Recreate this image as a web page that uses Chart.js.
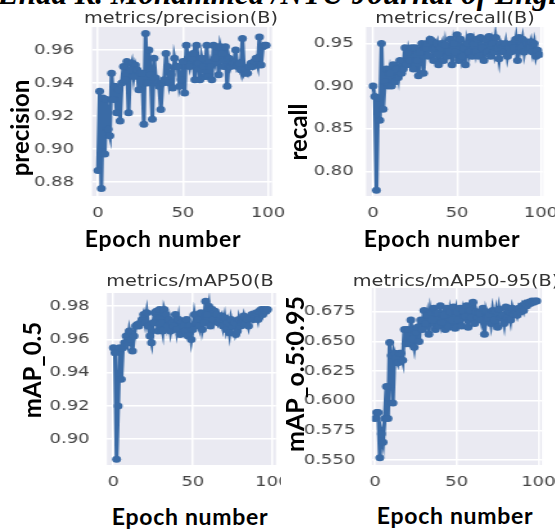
<!DOCTYPE html>
<html>
<head>
<meta charset="utf-8">
<script src="https://cdn.jsdelivr.net/npm/chart.js@4.4.0/dist/chart.umd.min.js"></script>
<style>
  html, body { margin: 0; padding: 0; background: #fff; }
  body { width: 555px; height: 530px; position: relative; overflow: hidden; }
  .panel { position: absolute; transform-origin: 0 0; }
  .panel canvas { display: block; }
  .lbl { position: absolute; font-family: Lato, sans-serif; font-weight: bold; color: #000;
         white-space: nowrap; transform: translate(-50%, -50%); line-height: 1; }
  .ylbl { transform: translate(-50%, -50%) rotate(-90deg); font-size: 24px; }
  .xlbl { font-size: 23px; letter-spacing: 0.7px; }
  .ttl { font-family: "DejaVu Sans", sans-serif; font-weight: normal; font-size: 15px; color: #333;
         transform: translate(-50%, -50%) scaleX(1.285); }
  #header { position: absolute; left: -2px; top: -24px; font: italic bold 31px "Liberation Serif", serif;
            white-space: nowrap; color: #000; }
</style>
</head>
<body>
<div id="header">Enaa K. Mohammed /NTU Journal of Engineering</div>

<script>
// training metrics per epoch
var precision = [
  0.887, 0.935, 0.876, 0.931, 0.897, 0.930, 0.912, 0.908, 0.946, 0.930,
  0.938, 0.922, 0.936, 0.917, 0.940, 0.950, 0.942, 0.953, 0.922, 0.948,
  0.952, 0.944, 0.951, 0.948, 0.936, 0.946, 0.946, 0.915, 0.970, 0.940,
  0.960, 0.945, 0.918, 0.955, 0.943, 0.940, 0.938, 0.924, 0.940, 0.942,
  0.958, 0.950, 0.940, 0.945, 0.937, 0.955, 0.950, 0.950, 0.938, 0.942,
  0.953, 0.934, 0.963, 0.955, 0.950, 0.955, 0.958, 0.942, 0.963, 0.952,
  0.942, 0.955, 0.950, 0.944, 0.963, 0.944, 0.950, 0.942, 0.963, 0.955,
  0.962, 0.945, 0.962, 0.958, 0.950, 0.962, 0.938, 0.955, 0.950, 0.953,
  0.952, 0.960, 0.950, 0.952, 0.948, 0.967, 0.946, 0.948, 0.946, 0.950,
  0.952, 0.950, 0.953, 0.955, 0.951, 0.968, 0.951, 0.962, 0.963, 0.963
];
var recall = [
  0.900, 0.888, 0.778, 0.886, 0.860, 0.950, 0.873, 0.905, 0.920, 0.900,
  0.915, 0.900, 0.925, 0.905, 0.920, 0.910, 0.930, 0.915, 0.920, 0.945,
  0.925, 0.940, 0.930, 0.945, 0.920, 0.945, 0.930, 0.912, 0.940, 0.950,
  0.915, 0.945, 0.950, 0.935, 0.955, 0.953, 0.930, 0.945, 0.950, 0.925,
  0.945, 0.950, 0.930, 0.948, 0.935, 0.940, 0.955, 0.925, 0.950, 0.940,
  0.960, 0.930, 0.955, 0.935, 0.945, 0.925, 0.950, 0.940, 0.958, 0.935,
  0.950, 0.940, 0.955, 0.935, 0.957, 0.945, 0.930, 0.955, 0.940, 0.958,
  0.935, 0.950, 0.940, 0.957, 0.945, 0.932, 0.950, 0.945, 0.940, 0.950,
  0.935, 0.945, 0.940, 0.950, 0.945, 0.955, 0.930, 0.957, 0.945, 0.955,
  0.940, 0.952, 0.950, 0.945, 0.952, 0.940, 0.950, 0.935, 0.942, 0.937
];
var map50 = [
  0.955, 0.952, 0.888, 0.920, 0.955, 0.936, 0.955, 0.958, 0.962, 0.958,
  0.965, 0.960, 0.953, 0.962, 0.968, 0.969, 0.968, 0.970, 0.972, 0.975,
  0.970, 0.976, 0.968, 0.962, 0.958, 0.970, 0.976, 0.977, 0.965, 0.978,
  0.970, 0.965, 0.978, 0.975, 0.968, 0.972, 0.965, 0.970, 0.968, 0.975,
  0.966, 0.972, 0.963, 0.970, 0.968, 0.965, 0.972, 0.962, 0.968, 0.960,
  0.966, 0.975, 0.970, 0.972, 0.968, 0.976, 0.966, 0.970, 0.983, 0.975,
  0.980, 0.968, 0.978, 0.972, 0.977, 0.975, 0.970, 0.972, 0.974, 0.968,
  0.973, 0.966, 0.970, 0.964, 0.972, 0.968, 0.970, 0.963, 0.965, 0.972,
  0.968, 0.970, 0.974, 0.970, 0.972, 0.968, 0.973, 0.975, 0.972, 0.974,
  0.976, 0.972, 0.977, 0.978, 0.975, 0.978, 0.977, 0.978
];
var map5095 = [
  0.585, 0.590, 0.590, 0.552, 0.572, 0.565, 0.585, 0.612, 0.585, 0.649,
  0.638, 0.598, 0.640, 0.636, 0.632, 0.640, 0.640, 0.634, 0.660, 0.648,
  0.660, 0.648, 0.668, 0.652, 0.645, 0.658, 0.662, 0.650, 0.668, 0.660,
  0.676, 0.665, 0.672, 0.656, 0.675, 0.668, 0.678, 0.660, 0.674, 0.663,
  0.680, 0.666, 0.672, 0.660, 0.678, 0.662, 0.675, 0.668, 0.679, 0.661,
  0.675, 0.668, 0.678, 0.663, 0.676, 0.671, 0.680, 0.662, 0.676, 0.670,
  0.683, 0.665, 0.675, 0.670, 0.674, 0.668, 0.678, 0.656, 0.675, 0.670,
  0.673, 0.665, 0.676, 0.668, 0.675, 0.662, 0.677, 0.670, 0.672, 0.665,
  0.679, 0.670, 0.675, 0.668, 0.678, 0.673, 0.676, 0.672, 0.678, 0.675,
  0.680, 0.676, 0.682, 0.680, 0.683, 0.682, 0.684, 0.683, 0.684, 0.684
];

var xTicks = [0, 50, 100];
var yTicks1 = [0.88, 0.90, 0.92, 0.94, 0.96];
var yTicks2 = [0.80, 0.85, 0.90, 0.95];
var yTicks3 = [0.90, 0.92, 0.94, 0.96, 0.98];
var yTicks4 = [0.550, 0.575, 0.600, 0.625, 0.650, 0.675];

// the source figure is stretched sideways, so each panel is drawn narrow and scaled
var STRETCH = 1.285;
var BLUE = '#3a6ba6';

var plotBackground = {
  id: 'plotBackground',
  beforeDraw: function(chart) {
    var a = chart.chartArea, ctx = chart.ctx;
    ctx.save();
    ctx.fillStyle = '#eaeaf2';
    ctx.fillRect(a.left, a.top, a.right - a.left, a.bottom - a.top);
    ctx.restore();
  }
};

function makePlot(o) {
  var w = Math.round(o.box[2] / STRETCH);
  var h = o.box[3];
  var wrap = document.createElement('div');
  wrap.className = 'panel';
  wrap.style.left = o.box[0] + 'px';
  wrap.style.top = o.box[1] + 'px';
  wrap.style.transform = 'scaleX(' + STRETCH + ')';
  var cv = document.createElement('canvas');
  cv.width = w; cv.height = h;
  cv.style.width = w + 'px'; cv.style.height = h + 'px';
  wrap.appendChild(cv);
  document.body.appendChild(wrap);

  var yWidth = (o.area[0] - o.box[0]) / STRETCH;
  var padRight = w - (o.area[1] - o.box[0]) / STRETCH;
  var xHeight = o.box[1] + h - o.area[3];
  var padTop = o.area[2] - o.box[1];

  var yTicks = o.yTicks;
  var dec = o.dec;
  var pts = o.values.map(function(v, i) { return { x: i, y: v }; });

  new Chart(cv, {
    type: 'line',
    data: {
      datasets: [{
        data: pts,
        borderColor: BLUE,
        backgroundColor: BLUE,
        pointBackgroundColor: BLUE,
        borderWidth: 3,
        pointRadius: 3.5,
        pointBorderWidth: 0,
        tension: 0
      }]
    },
    options: {
      responsive: false,
      animation: false,
      devicePixelRatio: 1,
      layout: { padding: { left: 0, right: padRight, top: padTop, bottom: 0 } },
      plugins: {
        legend: { display: false },
        tooltip: { enabled: false }
      },
      scales: {
        x: {
          type: 'linear',
          min: o.x[0],
          max: o.x[1],
          border: { display: false },
          grid: { color: '#ffffff', lineWidth: 1.5, drawTicks: false },
          afterBuildTicks: function(s) {
            s.ticks = xTicks.map(function(v) { return { value: v }; });
          },
          ticks: {
            padding: 9,
            maxRotation: 0,
            autoSkip: false,
            color: '#444',
            font: { family: 'DejaVu Sans', size: 14 },
            callback: function(v) { return String(v); }
          },
          afterFit: function(s) {
            s.height = xHeight;
            s.paddingLeft = 0;
            s.paddingRight = 0;
          }
        },
        y: {
          min: o.y[0],
          max: o.y[1],
          border: { display: false },
          grid: { color: '#ffffff', lineWidth: 1.5, drawTicks: false },
          afterBuildTicks: function(s) {
            s.ticks = yTicks.map(function(v) { return { value: v }; });
          },
          ticks: {
            padding: o.tickPad,
            autoSkip: false,
            color: '#444',
            font: { family: 'DejaVu Sans', size: 14 },
            callback: function(v) { return Number(v).toFixed(dec); }
          },
          afterFit: function(s) {
            s.width = yWidth;
            s.paddingTop = 0;
            s.paddingBottom = 0;
          }
        }
      }
    },
    plugins: [plotBackground]
  });
}

function addLabel(text, cls, x, y, size) {
  var d = document.createElement('div');
  d.className = 'lbl ' + cls;
  d.textContent = text;
  d.style.left = x + 'px';
  d.style.top = y + 'px';
  if (size) d.style.fontSize = size + 'px';
  document.body.appendChild(d);
}

makePlot({ values: precision,
  box: [0, 0, 290, 224], area: [92, 272, 27, 196],
  x: [-3.5, 102.4], y: [0.8715, 0.974], yTicks: yTicks1, dec: 2, tickPad: 14 });
makePlot({ values: recall,
  box: [278, 0, 277, 224], area: [366, 543, 27, 196],
  x: [-4.2, 101.2], y: [0.7714, 0.9692], yTicks: yTicks2, dec: 2, tickPad: 9.6 });
makePlot({ values: map50,
  box: [0, 262, 281, 232], area: [107, 276, 293, 465],
  x: [-4.0, 102.3], y: [0.8845, 0.9879], yTicks: yTicks3, dec: 2, tickPad: 13.5 });
makePlot({ values: map5095,
  box: [281, 262, 274, 232], area: [372, 542, 288, 465],
  x: [-1.8, 102.2], y: [0.5458, 0.695], yTicks: yTicks4, dec: 3, tickPad: 13 });

addLabel('metrics/precision(B)', 'ttl', 180.5, 18);
addLabel('metrics/recall(B)', 'ttl', 455, 18);
addLabel('metrics/mAP50(B', 'ttl', 190, 281);
addLabel('metrics/mAP50-95(B)', 'ttl', 456, 281);

addLabel('precision', 'ylbl', 20, 128);
addLabel('recall', 'ylbl', 298, 132);
addLabel('mAP_0.5', 'ylbl', 32, 370);
addLabel('mAP_o.5:0.95', 'ylbl', 294, 374, 25);
addLabel('Epoch number', 'xlbl', 163, 238);
addLabel('Epoch number', 'xlbl', 442, 238);
addLabel('Epoch number', 'xlbl', 190, 516);
addLabel('Epoch number', 'xlbl', 455, 515);
</script>
</body>
</html>
